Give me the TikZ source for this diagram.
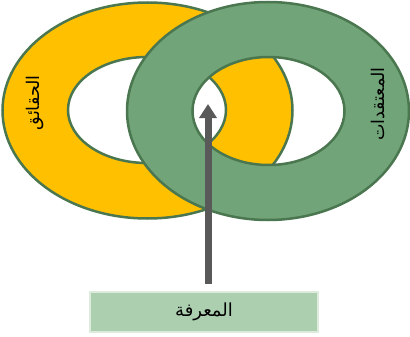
\documentclass[tikz,border=0pt]{standalone}
\usepackage{fontspec}
\newfontfamily\arabicfont[Script=Arabic]{DejaVu Sans}
\TeXXeTstate=1
\usetikzlibrary{arrows.meta}
\definecolor{ringyellow}{HTML}{FFC000}
\definecolor{ringgreen}{HTML}{71A478}
\definecolor{ringedge}{HTML}{4A7650}
\definecolor{boxfill}{HTML}{ABCFAF}
\definecolor{boxedge}{HTML}{DCEBDC}
\definecolor{arrowgrey}{HTML}{595959}
\begin{document}
\begin{tikzpicture}[x=1pt,y=-1pt,
  ring/.style={even odd rule, draw=ringedge, line width=2.5pt},
  ringlabel/.style={rotate=90, font=\arabicfont\fontsize{17.5}{20}\selectfont, inner sep=0pt},
  labelbox/.style={draw=boxedge, fill=boxfill, line width=2pt, minimum width=228pt, minimum height=40pt, font=\arabicfont\fontsize{18}{20}\selectfont},
  uparrow/.style={-{Triangle[width=17pt,length=14pt]}, line width=7pt, draw=arrowgrey}]
\useasboundingbox (0,0) rectangle (410,337);
% left ring
\path[ring, fill=ringyellow] (147.5,110.5) ellipse [x radius=145pt, y radius=108pt]
  (147,110) ellipse [x radius=79pt, y radius=53pt];
% right ring
\path[ring, fill=ringgreen] (268,111) ellipse [x radius=141pt, y radius=109pt]
  (268.5,111) ellipse [x radius=76pt, y radius=54pt];
\node[ringlabel] (facts) at (35,103) {\beginR الحقائق\endR};
\node[ringlabel] (beliefs) at (378,104) {\beginR المعتقدات\endR};
\node[labelbox] (knowledge) at (204,312) {\beginR المعرفة\endR};
\coordinate (tip) at (208,104);
\draw[uparrow, shorten <=7pt] (knowledge.north -| tip) -- (tip);
\end{tikzpicture}
\end{document}
